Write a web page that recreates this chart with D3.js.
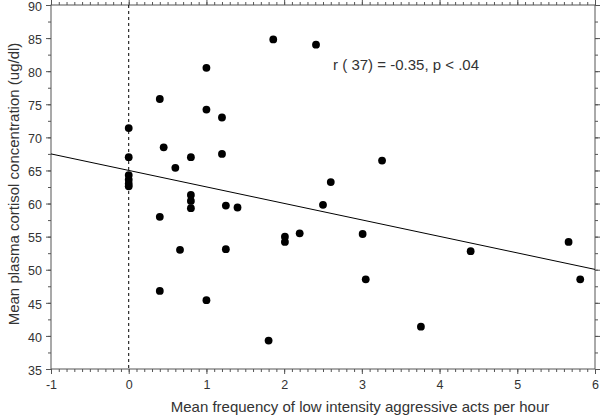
<!DOCTYPE html>
<html><head><meta charset="utf-8">
<script src="https://cdn.jsdelivr.net/npm/d3@7"></script>
<style>body{margin:0;background:#fff;}svg{display:block;font-family:"Liberation Sans",Arial,sans-serif;}</style>
</head><body>
<svg id="c" width="600" height="418"></svg>
<script>
const xValues = [0,0,0,0,0,0, 0.40,0.45,0.60,0.80,0.80,0.80,0.80,0.40,0.66,0.40,
  1.86,2.41,1.00,1.00,1.20,1.20,3.26,2.60,
  1.25,1.40,2.50,2.01,2.01,2.20,3.01,1.25,3.05,1.00,1.80,
  4.40,5.66,5.81,3.76];
const yValues = [71.4,67.0,64.3,63.6,63.0,62.6, 75.8,68.5,65.4,67.0,61.3,60.4,59.3,58.0,53.0,46.8,
  84.8,84.0,80.5,74.2,73.0,67.5,66.5,63.25,
  59.7,59.4,59.8,55.0,54.2,55.5,55.4,53.1,48.55,45.4,39.3,
  52.8,54.2,48.55,41.4];
const fitX = [-1, 6];
const fitY = [67.5, 50.05];
const xTicks = [-1,0,1,2,3,4,5,6];
const yTicks = [35,40,45,50,55,60,65,70,75,80,85,90];
const annotation = "r ( 37) = -0.35, p < .04";
const xTitle = "Mean frequency of low intensity aggressive acts per hour";
const yTitle = "Mean plasma cortisol concentration (ug/dl)";

const svg = d3.select("#c");
const L=51, R=595, T=5, B=369;
const x = d3.scaleLinear().domain([-1,6]).range([L,R]);
const y = d3.scaleLinear().domain([35,90]).range([B,T]);
const frame = "#555", txt = "#333";

const xMinor = d3.range(-10,61).map(d=>d/10);
const yMinor = d3.range(35,90.01,2.5);
function axisG(axis, tr){ const a=svg.append("g").attr("transform",tr).call(axis); a.selectAll("line,path").attr("stroke",frame); return a;}
axisG(d3.axisBottom(x).tickValues(xMinor).tickSize(3).tickFormat(""), `translate(0,${B})`);
axisG(d3.axisTop(x).tickValues(xMinor).tickSize(3).tickFormat(""), `translate(0,${T})`);
axisG(d3.axisLeft(y).tickValues(yMinor).tickSize(3).tickFormat(""), `translate(${L},0)`);
axisG(d3.axisRight(y).tickValues(yMinor).tickSize(3).tickFormat(""), `translate(${R},0)`);
axisG(d3.axisBottom(x).tickValues(xTicks).tickSize(5).tickPadding(6).tickFormat(d=>String(d)), `translate(0,${B})`);
axisG(d3.axisTop(x).tickValues(xTicks).tickSize(5).tickFormat(""), `translate(0,${T})`);
axisG(d3.axisLeft(y).tickValues(yTicks).tickSize(5).tickPadding(4).tickFormat(d=>String(d)), `translate(${L},0)`)
  .selectAll(".tick text").attr("dy","0.42em");
axisG(d3.axisRight(y).tickValues(yTicks).tickSize(5).tickFormat(""), `translate(${R},0)`);
svg.selectAll(".domain").remove();
svg.selectAll(".tick text").attr("fill",txt).style("font-size","12.5px").style("font-family","'Liberation Sans',Arial,sans-serif");

svg.append("rect").attr("x",L).attr("y",T).attr("width",R-L).attr("height",B-T)
  .attr("fill","none").attr("stroke",frame).attr("stroke-width",1);

svg.append("line").attr("x1",x(0)).attr("x2",x(0)).attr("y1",T).attr("y2",B)
  .attr("stroke","#000").attr("stroke-dasharray","3,3").attr("stroke-width",1);

svg.append("line").attr("x1",x(fitX[0])).attr("y1",y(fitY[0])).attr("x2",x(fitX[1])).attr("y2",y(fitY[1]))
  .attr("stroke","#000").attr("stroke-width",1);

svg.append("g").selectAll("circle").data(xValues.map((d,i)=>[d,yValues[i]])).join("circle")
  .attr("cx",d=>x(d[0])).attr("cy",d=>y(d[1])).attr("r",3.9).attr("fill","#000");

svg.append("text").attr("x",x(2.63)).attr("y",y(80.2)).attr("fill",txt)
  .style("font-size","15px").text(annotation);

svg.append("text").attr("x",360).attr("y",412).attr("text-anchor","middle").attr("fill",txt)
  .style("font-size","15px").text(xTitle);
svg.append("text").attr("transform",`translate(19,184) rotate(-90)`).attr("text-anchor","middle").attr("fill",txt)
  .style("font-size","15px").text(yTitle);
</script>
</body></html>
